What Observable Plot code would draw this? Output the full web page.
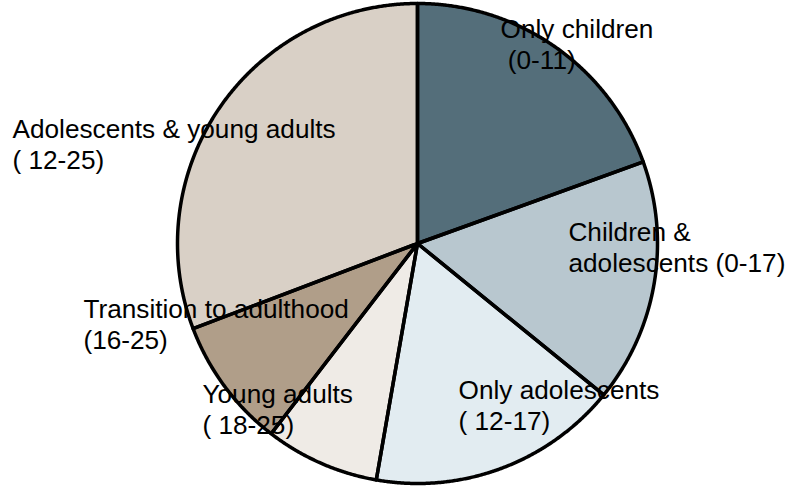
<!DOCTYPE html>
<html><head><meta charset="utf-8">
<script src="https://cdn.jsdelivr.net/npm/d3@7"></script>
<script src="https://cdn.jsdelivr.net/npm/@observablehq/plot@0.6"></script>
<style>body{margin:0;background:#fff;} svg{display:block;}</style>
</head><body><div id="chart"></div>
<script>
// Data
const categories = ["Only children", "Children & adolescents", "Only adolescents", "Young adults", "Transition to adulthood", "Adolescents & young adults"];
const shares = [19.5, 16.4, 16.9, 7.7, 8.8, 30.8];
const labelTexts = ["Only children\n\u00a0(0-11)", "Children &\nadolescents (0-17)", "Only adolescents\n( 12-17)", "Young adults\n( 18-25)", "Transition to adulthood\n(16-25)", "Adolescents & young adults\n( 12-25)"];
const colors = ["#546e7a", "#b8c7cf", "#e2ecf1", "#efebe6", "#b09e89", "#d9d0c6"];

// Label layout (unit-circle coordinates, baseline of last line)
const labelX = [0.346, 0.629, 0.171, -0.896, -1.392, -1.6875];
const labelY = [0.729, -0.117, -0.775, -0.792, -0.4375, 0.3125];

const arcs = d3.pie().sort(null).value(d => d)(shares);
const pts = [];
arcs.forEach((a, i) => {
  const cat = categories[i];
  pts.push({cat, x: 0, y: 0});
  const n = Math.max(2, Math.ceil((a.endAngle - a.startAngle) / 0.005));
  for (let k = 0; k <= n; k++) {
    const t = a.startAngle + (a.endAngle - a.startAngle) * k / n;
    pts.push({cat, x: Math.sin(t), y: Math.cos(t)});
  }
  pts.push({cat, x: 0, y: 0});
});
const labels = categories.map((c, i) => ({cat: c, text: labelTexts[i], x: labelX[i], y: labelY[i]}));

const chart = Plot.plot({
  width: 790,
  height: 486,
  marginLeft: 177,
  marginRight: 133,
  marginTop: 3,
  marginBottom: 3,
  x: {domain: [-1, 1], axis: null},
  y: {domain: [-1, 1], axis: null},
  color: {domain: categories, range: colors, legend: false},
  style: {fontFamily: "'Liberation Sans', Arial, sans-serif", background: "#fff", overflow: "visible"},
  marks: [
    Plot.line(pts, {x: "x", y: "y", z: "cat", fill: "cat", stroke: null, curve: "linear"}),
    Plot.text(labels, {x: "x", y: "y", text: "text", textAnchor: "start", lineAnchor: "bottom", fontSize: 26.2, lineHeight: 31/26.2, fill: "#000"}),
    Plot.line(pts, {x: "x", y: "y", z: "cat", fill: "none", stroke: "#000", strokeWidth: 3.5, strokeLinejoin: "round", strokeLinecap: "round", curve: "linear"})
  ]
});
document.getElementById("chart").appendChild(chart);
</script>
</body></html>
